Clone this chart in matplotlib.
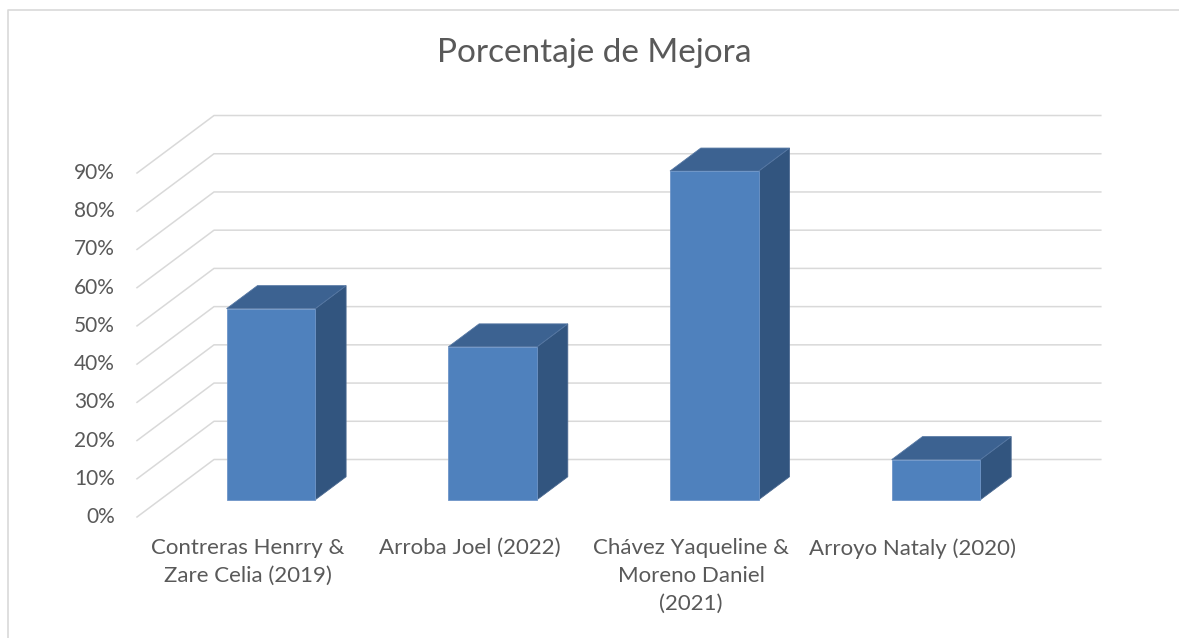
import matplotlib.pyplot as plt
from matplotlib.patches import Polygon, Rectangle


TITLE = "Porcentaje de Mejora"
categories = [
    "Contreras Henrry &\nZare Celia (2019)",
    "Arroba Joel (2022)",
    "Chávez Yaqueline &\nMoreno Daniel\n(2021)",
    "Arroyo Nataly (2020)",
]
values = [0.50, 0.40, 0.86, 0.105]
ticks = [0.0, 0.1, 0.2, 0.3, 0.4, 0.5, 0.6, 0.7, 0.8, 0.9]

# layout (pixels of the 1179x638 image)
W, H = 1179, 638
X0_PX, Y0_PX = 137, 517       # front-left corner of the floor
CAT_PX = 221.7                # width of one category
UNIT_PX = 382.2               # height of 100%
DX = 77 / CAT_PX              # depth vector in data units
DY = 57.5 / UNIT_PX
BAR_W = 0.4
D0, D1 = 0.3, 0.7             # bar depth range

FRONT = "#4F81BD"
TOP = "#3C6291"
SIDE = "#32557F"
GRID = "#D9D9D9"
TEXT = "#595959"
FONT = "Lato"

fig = plt.figure(figsize=(W / 100, H / 100), dpi=100)
ax = fig.add_axes([0, 0, 1, 1])
ax.set_xlim(-X0_PX / CAT_PX, (W - X0_PX) / CAT_PX)
ax.set_ylim(-(H - Y0_PX) / UNIT_PX, Y0_PX / UNIT_PX)
ax.axis("off")

n = len(categories)
for t in ticks:
    ax.plot([0, DX, n + DX], [t, t + DY, t + DY], color=GRID, lw=1.1, zorder=1)
    ax.text(-22 / CAT_PX, t, f"{t:.0%}", ha="right", va="center",
            fontsize=15, color=TEXT, family=FONT)

for i, v in enumerate(values):
    x0 = i + (1 - BAR_W) / 2 + D0 * DX
    y0 = D0 * DY
    dx, dy = (D1 - D0) * DX, (D1 - D0) * DY
    front = Rectangle((x0, y0), BAR_W, v, facecolor=FRONT, edgecolor="#6E95C8", lw=0.6, zorder=3)
    top = Polygon([(x0, y0 + v), (x0 + BAR_W, y0 + v), (x0 + BAR_W + dx, y0 + v + dy),
                   (x0 + dx, y0 + v + dy)], facecolor=TOP, edgecolor="#5577A3", lw=0.6, zorder=2)
    side = Polygon([(x0 + BAR_W, y0), (x0 + BAR_W + dx, y0 + dy), (x0 + BAR_W + dx, y0 + v + dy),
                    (x0 + BAR_W, y0 + v)], facecolor=SIDE, edgecolor="#4A6890", lw=0.6, zorder=2)
    for p in (side, top, front):
        ax.add_patch(p)

for i, label in enumerate(categories):
    ax.text(i + 0.5, -21 / UNIT_PX, label, ha="center", va="top", fontsize=16,
            color=TEXT, family=FONT, linespacing=1.5)

fig.text(594 / W, 1 - 53 / H, TITLE, ha="center", va="center", fontsize=24,
         color=TEXT, family=FONT)

# chart border
fig.add_artist(plt.Line2D([8 / W, 8 / W, 1], [0, 1 - 10 / H, 1 - 10 / H], color=GRID, lw=1.2))

fig.savefig("out.png", dpi=100)
